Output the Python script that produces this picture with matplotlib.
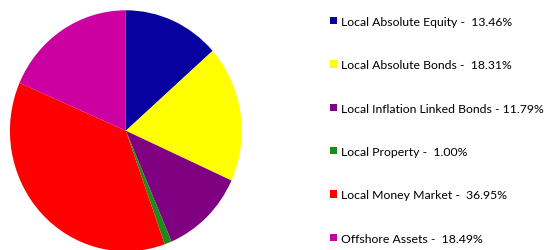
import matplotlib.pyplot as plt
from matplotlib.patches import Patch

categories = ['Local Absolute Equity', 'Local Absolute Bonds', 'Local Inflation Linked Bonds',
              'Local Property', 'Local Money Market', 'Offshore Assets']
values = [13.46, 18.31, 11.79, 1.00, 36.95, 18.49]
colors = ['#08009f', '#ffff00', '#7f0080', '#1a8c1a', '#ff0000', '#cc00a0']


def main():
    fig = plt.figure(figsize=(5.52, 2.51), dpi=100)
    plt.rcParams['font.family'] = ['Lato', 'DejaVu Sans']

    # pie sits at the left, a bit taller than wide like the source
    ax = fig.add_axes([0.018, -0.005, 0.42, 0.96])
    ax.pie(values, colors=colors, startangle=90, counterclock=False,
           wedgeprops=dict(linewidth=0))
    ax.set_aspect('auto')
    ax.set_xlim(-1, 1)
    ax.set_ylim(-1, 1)

    # legend on the right
    labels = [f'{c} -  {v:.2f}%' for c, v in zip(categories, values)]
    labels[2] = labels[2].replace('-  ', '- ')
    handles = [Patch(facecolor=c, edgecolor='none') for c in colors]
    fig.legend(handles, labels, loc='upper left', bbox_to_anchor=(0.589, 0.952),
               frameon=False, fontsize=8.8, handlelength=0.55, handleheight=0.55,
               handletextpad=0.35, labelspacing=2.65, borderaxespad=0)

    fig.savefig('out.png', dpi=100)


if __name__ == "__main__":
    main()
